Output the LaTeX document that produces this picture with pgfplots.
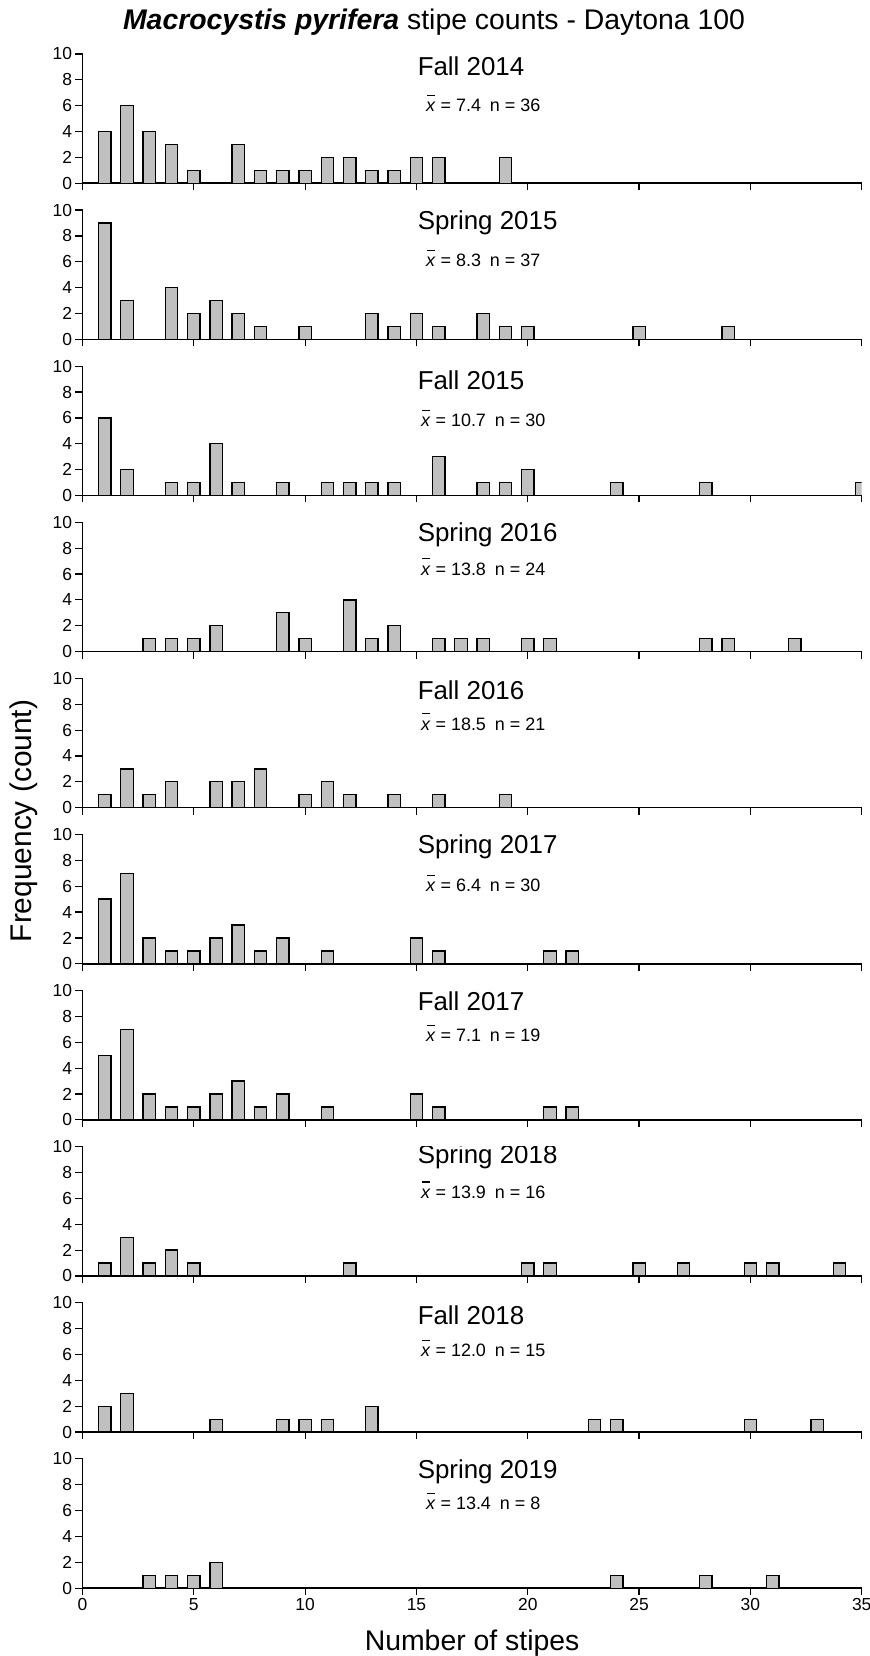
\documentclass[border=0pt]{standalone}
\usepackage{fontspec}
\setmainfont{Liberation Sans}
\usepackage{pgfplots}
\pgfplotsset{compat=1.18}
\definecolor{barfill}{HTML}{C0C0C0}
\newcommand{\xbar}{\makebox[0pt][l]{\hspace{0.06em}\raisebox{0.88em}{\rule{0.45em}{0.065em}}}\textit{x}}
\pgfplotsset{
  panel/.style={
    scale only axis, width=779.2bp, height=129.3bp,
    anchor=south west,
    xmin=0, xmax=35, ymin=0, ymax=10,
    axis x line*=bottom, axis y line*=left,
    xtick={0,5,...,35}, ytick={0,2,...,10},
    tick align=outside, major tick length=7bp,
    tick style={black, line width=1.2bp},
    axis line style={black, line width=1.6bp},
    ybar, bar width=12.4bp,
    ticklabel style={font=\fontsize{17.5}{17.5}\selectfont},
    /pgf/number format/assume math mode=true,
    clip=true,
  },
  nolab/.style={xticklabel=\empty},
  bars/.style={fill=barfill, draw=black, line width=1.3bp},
}
\tikzset{
  lab/.style={anchor=west, inner sep=0pt, font=\fontsize{26}{28}\selectfont},
  stat/.style={anchor=center, inner sep=0pt, font=\fontsize{18}{20}\selectfont},
}
\begin{document}
\begin{tikzpicture}
\useasboundingbox (0,0) rectangle (870bp,1656bp);
\node[font=\fontsize{28.5}{30}\selectfont] at (434bp,1634bp) {\textbf{\textit{Macrocystis pyrifera}} stipe counts - Daytona 100};
\node[rotate=90, font=\fontsize{30}{32}\selectfont] at (24bp,835bp) {Frequency (count)};

% Fall 2014
\begin{axis}[panel, nolab, at={(82.5bp,1472.7bp)}]
\addplot[bars] coordinates {(1,4) (2,6) (3,4) (4,3) (5,1) (7,3) (8,1) (9,1) (10,1) (11,2) (12,2) (13,1) (14,1) (15,2) (16,2) (19,2)};
\node[lab] at (axis cs:15.05,9.02) {Fall 2014};
\node[stat] at (axis cs:18,6.19) {\xbar{} = 7.4\hspace{0.5em}n = 36};
\end{axis}

% Spring 2015
\begin{axis}[panel, nolab, at={(82.5bp,1316.6bp)}]
\addplot[bars] coordinates {(1,9) (2,3) (4,4) (5,2) (6,3) (7,2) (8,1) (10,1) (13,2) (14,1) (15,2) (16,1) (18,2) (19,1) (20,1) (25,1) (29,1)};
\node[lab] at (axis cs:15.05,8.98) {Spring 2015};
\node[stat] at (axis cs:18,6.27) {\xbar{} = 8.3\hspace{0.5em}n = 37};
\end{axis}

% Fall 2015
\begin{axis}[panel, nolab, at={(82.5bp,1160.5bp)}]
\addplot[bars] coordinates {(1,6) (2,2) (4,1) (5,1) (6,4) (7,1) (9,1) (11,1) (12,1) (13,1) (14,1) (16,3) (18,1) (19,1) (20,2) (24,1) (28,1) (35,1)};
\node[lab] at (axis cs:15.05,8.93) {Fall 2015};
\node[stat] at (axis cs:18,5.97) {\xbar{} = 10.7\hspace{0.5em}n = 30};
\end{axis}

% Spring 2016
\begin{axis}[panel, nolab, at={(82.5bp,1004.4bp)}]
\addplot[bars] coordinates {(3,1) (4,1) (5,1) (6,2) (9,3) (10,1) (12,4) (13,1) (14,2) (16,1) (17,1) (18,1) (20,1) (21,1) (28,1) (29,1) (32,1)};
\node[lab] at (axis cs:15.05,9.02) {Spring 2016};
\node[stat] at (axis cs:18,6.57) {\xbar{} = 13.8\hspace{0.5em}n = 24};
\end{axis}

% Fall 2016
\begin{axis}[panel, nolab, at={(82.5bp,848.3bp)}]
\addplot[bars] coordinates {(1,1) (2,3) (3,1) (4,2) (6,2) (7,2) (8,3) (10,1) (11,2) (12,1) (14,1) (16,1) (19,1)};
\node[lab] at (axis cs:15.05,9.1) {Fall 2016};
\node[stat] at (axis cs:18,6.65) {\xbar{} = 18.5\hspace{0.5em}n = 21};
\end{axis}

% Spring 2017
\begin{axis}[panel, nolab, at={(82.5bp,692.2bp)}]
\addplot[bars] coordinates {(1,5) (2,7) (3,2) (4,1) (5,1) (6,2) (7,3) (8,1) (9,2) (11,1) (15,2) (16,1) (21,1) (22,1)};
\node[lab] at (axis cs:15.05,9.06) {Spring 2017};
\node[stat] at (axis cs:18,6.23) {\xbar{} = 6.4\hspace{0.5em}n = 30};
\end{axis}

% Fall 2017
\begin{axis}[panel, nolab, at={(82.5bp,536.1bp)}]
\addplot[bars] coordinates {(1,5) (2,7) (3,2) (4,1) (5,1) (6,2) (7,3) (8,1) (9,2) (11,1) (15,2) (16,1) (21,1) (22,1)};
\node[lab] at (axis cs:15.05,9.14) {Fall 2017};
\node[stat] at (axis cs:18,6.7) {\xbar{} = 7.1\hspace{0.5em}n = 19};
\end{axis}

% Spring 2018
\begin{axis}[panel, nolab, at={(82.5bp,380.0bp)}]
\addplot[bars] coordinates {(1,1) (2,3) (3,1) (4,2) (5,1) (12,1) (20,1) (21,1) (25,1) (27,1) (30,1) (31,1) (34,1)};
\node[lab] at (axis cs:15.05,9.23) {Spring 2018};
\node[stat] at (axis cs:18,6.65) {\xbar{} = 13.9\hspace{0.5em}n = 16};
\end{axis}

% Fall 2018
\begin{axis}[panel, nolab, at={(82.5bp,223.9bp)}]
\addplot[bars] coordinates {(1,2) (2,3) (6,1) (9,1) (10,1) (11,1) (13,2) (23,1) (24,1) (30,1) (33,1)};
\node[lab] at (axis cs:15.05,9.06) {Fall 2018};
\node[stat] at (axis cs:18,6.48) {\xbar{} = 12.0\hspace{0.5em}n = 15};
\end{axis}

% Spring 2019
\begin{axis}[panel, at={(82.5bp,67.8bp)},
  xlabel={Number of stipes},
  xlabel style={font=\fontsize{28.5}{30}\selectfont, yshift=-12bp}]
\addplot[bars] coordinates {(3,1) (4,1) (5,1) (6,2) (24,1) (28,1) (31,1)};
\node[lab] at (axis cs:15.05,9.02) {Spring 2019};
\node[stat] at (axis cs:18,6.7) {\xbar{} = 13.4\hspace{0.5em}n = 8};
\end{axis}
\end{tikzpicture}
\end{document}
